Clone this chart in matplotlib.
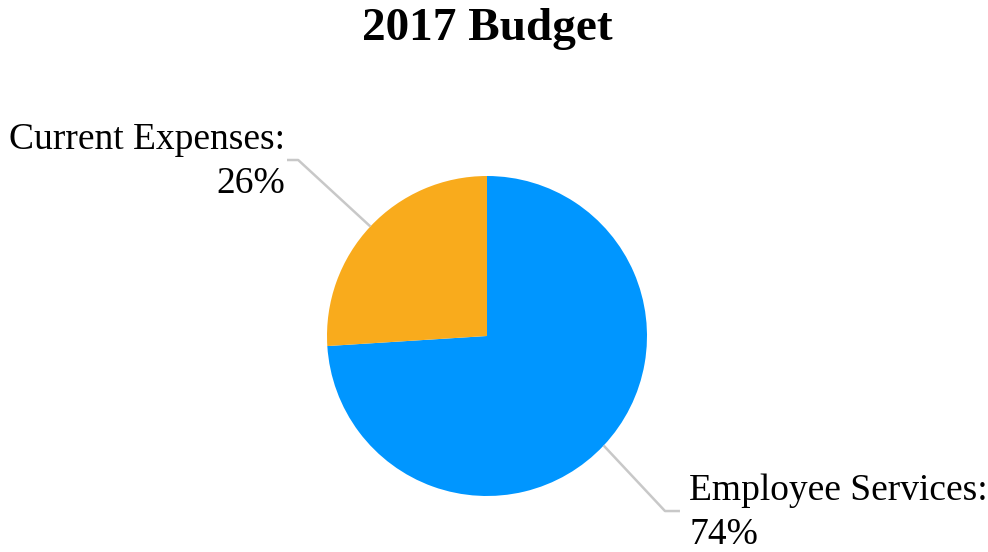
import numpy as np
import matplotlib
matplotlib.use("Agg")
import matplotlib.pyplot as plt

title = "2017 Budget"
categories = ["Employee Services", "Current Expenses"]
shares = [74, 26]
colors = ["#0096ff", "#f9ab1c"]

plt.rcParams["font.family"] = ["Liberation Serif", "DejaVu Serif"]

W, H = 988, 552
fig = plt.figure(figsize=(W / 100, H / 100), dpi=100)
fig.patch.set_facecolor("white")

# pie centred at (487, 336) px with radius 160 px
cx, cy, r = 487, 336, 160
ax = fig.add_axes([(cx - r) / W, (H - cy - r) / H, 2 * r / W, 2 * r / H])
wedges, _ = ax.pie(shares, colors=colors, startangle=90, counterclock=False,
                   radius=1.0, wedgeprops=dict(linewidth=0))
ax.set_xlim(-1, 1)
ax.set_ylim(-1, 1)
ax.set_aspect("equal")
ax.axis("off")

fig.text(cx / W, 1 - 29 / H, title, ha="center", va="center",
         fontsize=34, fontweight="bold")

# label layout: (elbow x, elbow y, end x, text x, alignment)
layout = [
    (1.1125, -1.094, 1.206, 1.2625, "left"),
    (-1.18, 1.10, -1.25, -1.262, "right"),
]
line_color = "#c8c8c8"
for w, name, val, (ex, ey, endx, tx, ha) in zip(wedges, categories, shares, layout):
    mid = np.deg2rad((w.theta1 + w.theta2) / 2)
    px, py = np.cos(mid), np.sin(mid)
    ax.plot([px, ex, endx], [py, ey, ey], color=line_color, lw=1.8,
            clip_on=False, solid_capstyle="butt")
    ax.text(tx, ey - 0.01, f"{name}:\n{val}%", ha=ha, va="center",
            multialignment=ha, fontsize=27, linespacing=1.38,
            clip_on=False)

fig.savefig("out.png", dpi=100, facecolor="white")
